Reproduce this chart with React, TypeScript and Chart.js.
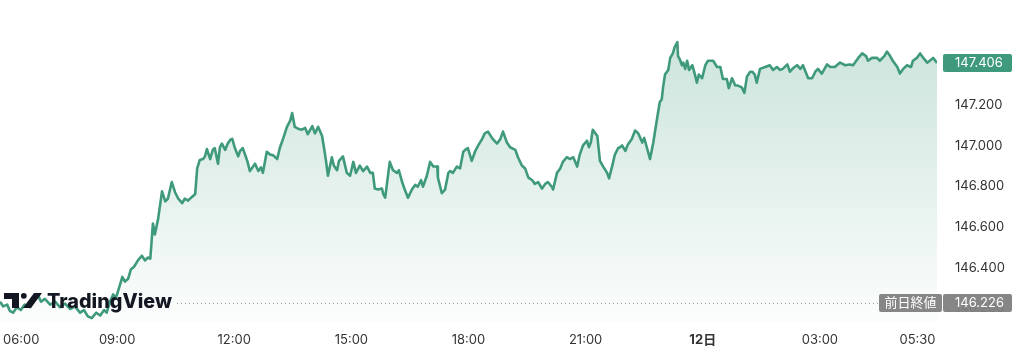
import React, { useEffect, useRef } from "react";
import { Chart, registerables } from "chart.js";

Chart.register(...registerables);

// minutes since 06:00 (JST)
const minutes = [
  0, 5, 11, 15, 20, 26, 32, 38, 46, 54, 58, 63, 69, 77, 85, 92, 100, 108, 115, 123,
  129, 135, 141, 148, 154, 160, 164, 169, 174, 178, 183, 188, 192, 197, 201, 206, 212, 218, 223, 227,
  231, 235, 238, 243, 249, 254, 258, 264, 269, 274, 280, 284, 289, 295, 300, 303, 307, 312, 315, 318,
  323, 327, 330, 335, 338, 341, 346, 350, 354, 357, 361, 366, 369, 373, 380, 384, 389, 392, 397, 401,
  404, 410, 415, 420, 426, 430, 435, 441, 446, 449, 453, 458, 464, 469, 473, 480, 484, 489, 495, 498,
  501, 504, 510, 513, 518, 521, 527, 533, 538, 543, 547, 553, 558, 564, 569, 573, 576, 581, 587, 589,
  592, 595, 599, 604, 610, 613, 618, 622, 627, 633, 638, 642, 647, 650, 656, 661, 666, 672, 673, 679,
  684, 689, 692, 696, 702, 707, 712, 715, 719, 725, 730, 735, 741, 745, 750, 756, 761, 764, 769, 773,
  779, 784, 792, 796, 802, 807, 812, 818, 822, 827, 833, 838, 842, 848, 850, 856, 861, 865, 871, 876,
  881, 887, 891, 896, 902, 905, 908, 911, 918, 922, 927, 933, 936, 941, 945, 950, 953, 956, 961, 965,
  971, 976, 981, 987, 990, 994, 999, 1004, 1010, 1014, 1017, 1019, 1022, 1027, 1030, 1034, 1037, 1041, 1042, 1045,
  1048, 1050, 1053, 1056, 1059, 1064, 1068, 1071, 1074, 1079, 1084, 1088, 1096, 1102, 1107, 1111, 1117, 1120, 1125, 1130,
  1134, 1140, 1144, 1148, 1153, 1156, 1160, 1163, 1168, 1176, 1183, 1188, 1194, 1199, 1203, 1210, 1214, 1219, 1225, 1230,
  1234, 1242, 1248, 1253, 1257, 1263, 1271, 1276, 1283, 1291, 1299, 1306, 1311, 1319, 1325, 1331, 1334, 1340, 1348, 1352,
  1359, 1363, 1368, 1372, 1379, 1383, 1388, 1394, 1400, 1403, 1409, 1414, 1419, 1425, 1429, 1434, 1440,
];

const prices = [
  146.233, 146.21, 146.219, 146.188, 146.179, 146.206, 146.192, 146.219, 146.206, 146.251, 146.269, 146.233, 146.247, 146.219, 146.233, 146.206, 146.224, 146.197, 146.21, 146.179,
  146.192, 146.161, 146.152, 146.179, 146.165, 146.192, 146.179, 146.233, 146.269, 146.251, 146.301, 146.355, 146.332, 146.346, 146.391, 146.405, 146.436, 146.459, 146.436, 146.45,
  146.445, 146.617, 146.563, 146.64, 146.775, 146.726, 146.739, 146.821, 146.771, 146.739, 146.717, 146.739, 146.73, 146.748, 146.762, 146.888, 146.929, 146.934, 146.947, 146.983,
  146.934, 146.979, 146.988, 146.911, 146.992, 147.01, 146.979, 147.01, 147.029, 147.033, 146.988, 146.947, 146.974, 146.988, 146.925, 146.875, 146.897, 146.911, 146.875, 146.893,
  146.866, 146.97, 146.956, 146.952, 146.934, 146.988, 147.033, 147.092, 147.123, 147.16, 147.092, 147.083, 147.078, 147.087, 147.056, 147.096, 147.06, 147.092, 147.047, 146.988,
  146.925, 146.852, 146.943, 146.902, 146.879, 146.925, 146.947, 146.866, 146.852, 146.92, 146.866, 146.902, 146.875, 146.897, 146.866, 146.866, 146.789, 146.784, 146.789, 146.762,
  146.744, 146.821, 146.92, 146.879, 146.866, 146.879, 146.821, 146.784, 146.744, 146.784, 146.807, 146.798, 146.83, 146.798, 146.852, 146.92, 146.897, 146.897, 146.843, 146.766,
  146.784, 146.866, 146.875, 146.866, 146.897, 146.888, 146.97, 146.979, 146.988, 146.925, 146.97, 147.001, 147.033, 147.06, 147.069, 147.038, 147.02, 147.01, 147.033, 147.069,
  147.015, 146.992, 146.979, 146.943, 146.902, 146.888, 146.843, 146.83, 146.812, 146.821, 146.789, 146.812, 146.821, 146.798, 146.784, 146.866, 146.888, 146.92, 146.943, 146.934,
  146.943, 146.897, 146.956, 147.001, 147.024, 146.992, 147.015, 147.078, 147.047, 146.925, 146.897, 146.866, 146.839, 146.902, 146.956, 146.988, 146.992, 147.001, 146.974, 147.006,
  147.033, 147.074, 147.06, 147.015, 147.038, 146.992, 146.934, 147.015, 147.137, 147.214, 147.227, 147.286, 147.349, 147.372, 147.431, 147.453, 147.485, 147.508, 147.44, 147.422,
  147.395, 147.408, 147.377, 147.417, 147.372, 147.395, 147.349, 147.309, 147.349, 147.331, 147.395, 147.417, 147.417, 147.386, 147.386, 147.327, 147.327, 147.282, 147.331, 147.295,
  147.295, 147.286, 147.259, 147.34, 147.363, 147.363, 147.349, 147.309, 147.377, 147.386, 147.395, 147.372, 147.386, 147.372, 147.377, 147.399, 147.363, 147.381, 147.395, 147.377,
  147.395, 147.331, 147.331, 147.363, 147.377, 147.354, 147.399, 147.386, 147.386, 147.408, 147.395, 147.399, 147.395, 147.431, 147.453, 147.44, 147.417, 147.431, 147.431, 147.417,
  147.44, 147.462, 147.44, 147.417, 147.386, 147.354, 147.377, 147.395, 147.386, 147.417, 147.431, 147.453, 147.431, 147.408, 147.417, 147.431, 147.406,
];

const yTicks = [146.2, 146.4, 146.6, 146.8, 147.0, 147.2, 147.4];
const xTickMinutes = [0, 180, 360, 540, 720, 900, 1080, 1260, 1410];
const xTickLabels = ["06:00", "09:00", "12:00", "15:00", "18:00", "21:00", "12日", "03:00", "05:30"];
const boldTickLabels = ["12日"];
const prevClose = 146.226;
const prevCloseLabel = "前日終値";
const brandName = "TradingView";

const Y_MIN = 146.1333;
const Y_MAX = 147.5887;
const X_MIN = 0;
const X_MAX = 1440;

const LINE = "rgb(63,154,125)";
const FONT = "Inter, 'Noto Sans CJK JP', sans-serif";

const overlayPlugin = {
  id: "overlay",
  afterDraw(chart: any) {
    const ctx: CanvasRenderingContext2D = chart.ctx;
    const xs = chart.scales.x;
    const ys = chart.scales.y;
    ctx.save();

    // previous close dotted line
    const py = Math.round(ys.getPixelForValue(prevClose)) + 0.5;
    ctx.setLineDash([1, 3]);
    ctx.strokeStyle = "#9a9a9a";
    ctx.lineWidth = 1;
    ctx.beginPath();
    ctx.moveTo(177, py);
    ctx.lineTo(878, py);
    ctx.stroke();
    ctx.setLineDash([]);

    // previous close labels
    ctx.fillStyle = "rgba(128,128,128,0.95)";
    ctx.beginPath();
    (ctx as any).roundRect(879, py - 9.5, 63, 18, 2);
    ctx.fill();
    ctx.beginPath();
    (ctx as any).roundRect(943, py - 9.5, 69, 18, 2);
    ctx.fill();
    ctx.fillStyle = "#ffffff";
    ctx.textBaseline = "middle";
    ctx.textAlign = "center";
    ctx.font = `13px ${FONT}`;
    ctx.fillText(prevCloseLabel, 910.5, py - 0.5);
    ctx.textAlign = "left";
    ctx.fillText(prevClose.toFixed(3), 955, py - 0.5);

    // last price label
    const last = prices[prices.length - 1];
    const ly = ys.getPixelForValue(last);
    ctx.fillStyle = LINE;
    ctx.beginPath();
    (ctx as any).roundRect(943, ly - 9, 69, 18, 2);
    ctx.fill();
    ctx.fillStyle = "#ffffff";
    ctx.fillText(last.toFixed(3), 955, ly + 0.5);

    // x axis labels
    ctx.fillStyle = "#333333";
    ctx.textAlign = "center";
    for (let i = 0; i < xTickMinutes.length; i++) {
      const lab = xTickLabels[i];
      ctx.font = boldTickLabels.includes(lab) ? `bold 13px ${FONT}` : `13px ${FONT}`;
      const w = ctx.measureText(lab).width;
      let x = xs.getPixelForValue(xTickMinutes[i]);
      x = Math.max(x, w / 2 + 3);
      ctx.fillText(lab, x, 340);
    }

    // brand logo
    ctx.fillStyle = "#131722";
    ctx.fillRect(4, 293, 15, 6);
    ctx.fillRect(12, 293, 7, 15);
    ctx.beginPath();
    ctx.arc(23.8, 295.8, 2.9, 0, Math.PI * 2);
    ctx.fill();
    ctx.beginPath();
    ctx.moveTo(23, 308);
    ctx.lineTo(31, 308);
    ctx.lineTo(42, 293);
    ctx.lineTo(34, 293);
    ctx.closePath();
    ctx.fill();
    ctx.font = `800 20px ${FONT}`;
    ctx.textAlign = "left";
    ctx.textBaseline = "alphabetic";
    const bw = ctx.measureText(brandName).width;
    ctx.translate(47, 308);
    ctx.scale(125 / bw, 1);
    ctx.fillText(brandName, 0, 0);
    ctx.restore();
  },
};

export default function App() {
  const ref = useRef<HTMLCanvasElement | null>(null);
  useEffect(() => {
    document.body.style.margin = "0";
    const canvas = ref.current!;
    const data = minutes.map((m, i) => ({ x: m, y: prices[i] }));
    const chart = new Chart(canvas, {
      type: "line",
      data: {
        datasets: [
          {
            data,
            borderColor: LINE,
            borderWidth: 2.6,
            borderJoinStyle: "round",
            pointRadius: 0,
            tension: 0,
            fill: "start",
            backgroundColor: (c: any) => {
              const a = c.chart.chartArea;
              if (!a) return "rgba(63,154,125,0.2)";
              const g = c.chart.ctx.createLinearGradient(0, a.top, 0, a.bottom);
              g.addColorStop(0, "rgba(63,154,125,0.28)");
              g.addColorStop(1, "rgba(63,154,125,0.02)");
              return g;
            },
          },
        ],
      },
      options: {
        animation: false,
        responsive: false,
        devicePixelRatio: 1,
        layout: { padding: { top: 0, bottom: 39, left: 0, right: 0 } },
        plugins: { legend: { display: false }, tooltip: { enabled: false } },
        scales: {
          x: { type: "linear", min: X_MIN, max: X_MAX, display: false },
          y: {
            position: "right",
            min: Y_MIN,
            max: Y_MAX,
            grid: { display: false, drawTicks: false },
            border: { display: false },
            afterBuildTicks: (s: any) => {
              s.ticks = yTicks.map((v) => ({ value: v }));
            },
            afterFit: (s: any) => {
              s.width = 87;
            },
            ticks: {
              padding: 18,
              color: "#333333",
              font: { family: FONT, size: 13 },
              callback: (v: any) => Number(v).toFixed(3),
            },
          },
        },
      },
      plugins: [overlayPlugin],
    });
    return () => chart.destroy();
  }, []);
  return (
    <div style={{ position: "relative", width: 1024, height: 361, background: "#fff" }}>
      <canvas ref={ref} width={1024} height={361} />
    </div>
  );
}
